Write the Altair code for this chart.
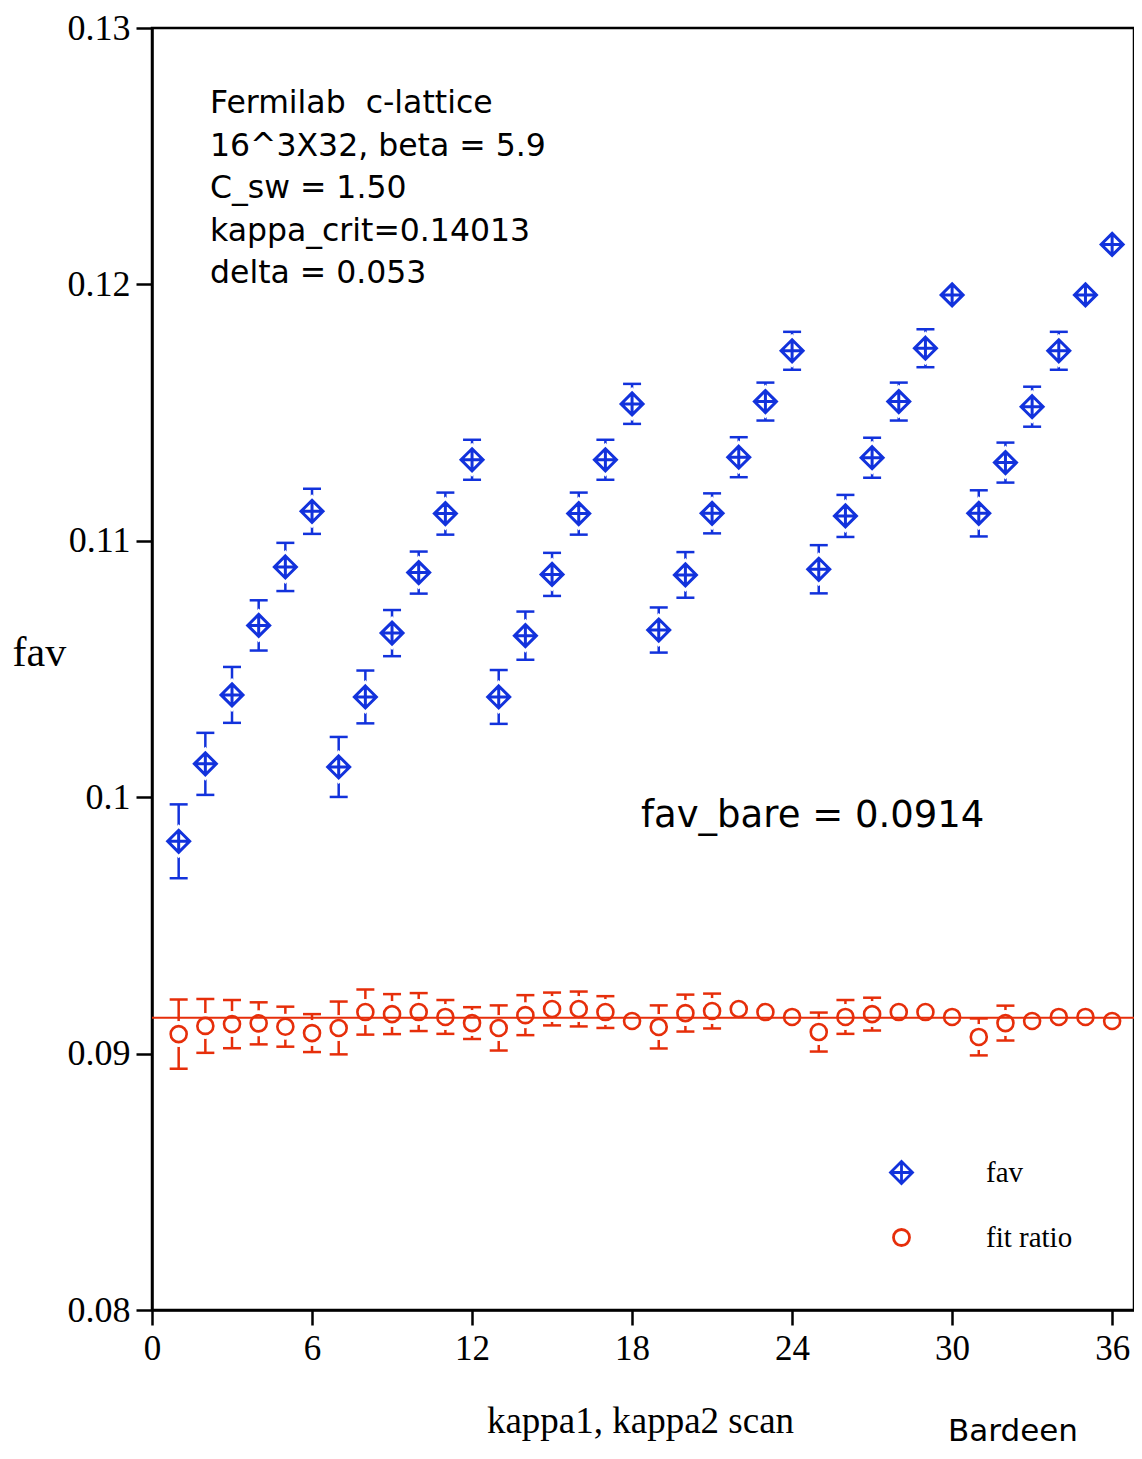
import altair as alt
import pandas as pd

# ---- data ----
x_idx = list(range(1, 37))

fav_val = [0.09828, 0.10130, 0.10399, 0.10670, 0.10898, 0.11115,
           0.10118, 0.10391, 0.10640, 0.10876, 0.11106, 0.11316,
           0.10391, 0.10630, 0.10869, 0.11106, 0.11316, 0.11534,
           0.10652, 0.10867, 0.11107, 0.11326, 0.11543, 0.11741,
           0.10889, 0.11097, 0.11324, 0.11543, 0.11751, 0.11959,
           0.11107, 0.11305, 0.11523, 0.11741, 0.11959, 0.12156]
fav_err = [0.00144, 0.00121, 0.00109, 0.00098, 0.00094, 0.00088,
           0.00117, 0.00103, 0.00090, 0.00082, 0.00082, 0.00078,
           0.00105, 0.00094, 0.00084, 0.00082, 0.00078, 0.00078,
           0.00088, 0.00089, 0.00078, 0.00078, 0.00074, 0.00074,
           0.00094, 0.00082, 0.00078, 0.00074, 0.00074, 0.00020,
           0.00090, 0.00078, 0.00078, 0.00074, 0.00020, 0.00020]

fit_val = [0.09076, 0.09108, 0.09115, 0.09118, 0.09105, 0.09080,
           0.09100, 0.09162, 0.09154, 0.09162, 0.09143, 0.09119,
           0.09100, 0.09150, 0.09174, 0.09174, 0.09162, 0.09127,
           0.09104, 0.09158, 0.09166, 0.09174, 0.09162, 0.09143,
           0.09084, 0.09143, 0.09154, 0.09162, 0.09162, 0.09143,
           0.09065, 0.09119, 0.09127, 0.09143, 0.09143, 0.09127]
fit_err = [0.00135, 0.00105, 0.00094, 0.00082, 0.00078, 0.00074,
           0.00103, 0.00088, 0.00078, 0.00074, 0.00066, 0.00062,
           0.00088, 0.00078, 0.00064, 0.00068, 0.00062, 0.00025,
           0.00084, 0.00072, 0.00068, 0.00025, 0.00025, 0.00025,
           0.00076, 0.00066, 0.00064, 0.00025, 0.00025, 0.00025,
           0.00072, 0.00068, 0.00025, 0.00025, 0.00025, 0.00025]

fav_bare = 0.0914
x_ticks = [0, 6, 12, 18, 24, 30, 36]
y_ticks = [0.08, 0.09, 0.10, 0.11, 0.12, 0.13]
series_names = ["fav", "fit ratio"]

info_lines = ["Fermilab\u00a0 c-lattice", "16^3X32, beta = 5.9", "C_sw = 1.50",
              "kappa_crit=0.14013", "delta = 0.053"]

# ---- styles ----
BLUE = "#1232dc"
RED = "#e62e0a"
DIAMOND_CROSS = "M0,-1L1,0L0,1L-1,0Z M0,-1L0,1 M-1,0L1,0"
SERIF = "Liberation Serif"
SANS = "DejaVu Sans"

df_fav = pd.DataFrame({"x": x_idx, "v": fav_val, "err": fav_err, "series": "fav"})
df_fit = pd.DataFrame({"x": x_idx, "v": fit_val, "err": fit_err, "series": "fit ratio"})
for d in (df_fav, df_fit):
    d["lo"] = d["v"] - d["err"]
    d["hi"] = d["v"] + d["err"]

xs = alt.Scale(domain=[0, 36.82], nice=False, zero=False)
ys = alt.Scale(domain=[0.08, 0.13], nice=False, zero=False)

X = alt.X("x:Q", scale=xs, axis=alt.Axis(
    values=x_ticks, format="d", title="kappa1, kappa2 scan",
    titleFont=SERIF, titleFontSize=37, titleFontWeight="normal",
    titleY=111, titleBaseline="middle", titleX=488, titleAlign="center",
    labelFont=SERIF, labelFontSize=35, labelPadding=6, labelColor="black",
    labelFlush=False, labelOverlap=False,
    tickSize=15, tickWidth=2.5, tickColor="black", domainColor="black",
    domainWidth=2.5, grid=False))
Y = alt.Y("v:Q", scale=ys, axis=alt.Axis(
    values=y_ticks, format=".2~f", title="fav",
    titleFont=SERIF, titleFontSize=42, titleFontWeight="normal", titleAngle=0,
    titleX=-140, titleY=637, titleAlign="left", titleBaseline="alphabetic",
    labelFont=SERIF, labelFontSize=36, labelPadding=6, labelColor="black",
    labelFlush=False, labelOverlap=False,
    tickSize=16, tickWidth=2.5, tickColor="black", domainColor="black",
    domainWidth=2.5, grid=False))

legend = alt.Legend(title=None, orient="none", legendX=735, legendY=1130,
                    labelFont=SERIF, labelFontSize=29, labelColor="black",
                    labelOffset=70, rowPadding=33, symbolStrokeWidth=2.8,
                    padding=0)
color = alt.Color("series:N", scale=alt.Scale(domain=series_names, range=[BLUE, RED]), legend=legend)
shape = alt.Shape("series:N", scale=alt.Scale(domain=series_names, range=[DIAMOND_CROSS, "circle"]), legend=legend)
size = alt.Size("series:N", scale=alt.Scale(domain=series_names, range=[484, 256]), legend=legend)


def err_layers(df, col):
    rule = alt.Chart(df).mark_rule(color=col, strokeWidth=2.5).encode(
        x=alt.X("x:Q", scale=xs), y=alt.Y("lo:Q", scale=ys), y2="hi:Q")
    cap_lo = alt.Chart(df).mark_tick(orient="horizontal", color=col, size=18,
                                     thickness=2.5, opacity=1).encode(
        x=alt.X("x:Q", scale=xs), y=alt.Y("lo:Q", scale=ys))
    cap_hi = alt.Chart(df).mark_tick(orient="horizontal", color=col, size=18,
                                     thickness=2.5, opacity=1).encode(
        x=alt.X("x:Q", scale=xs), y=alt.Y("hi:Q", scale=ys))
    return [rule, cap_lo, cap_hi]


mask_fav = alt.Chart(df_fav).mark_point(shape="diamond", filled=True, color="white",
                                        size=1156, opacity=1, strokeWidth=0).encode(
    x=alt.X("x:Q", scale=xs), y=alt.Y("v:Q", scale=ys))
mask_fit = alt.Chart(df_fit).mark_point(shape="circle", filled=True, color="white",
                                        size=676, opacity=1, strokeWidth=0).encode(
    x=alt.X("x:Q", scale=xs), y=alt.Y("v:Q", scale=ys))

fit_line = alt.Chart(pd.DataFrame({"v": [fav_bare]})).mark_rule(
    color=RED, strokeWidth=2).encode(y=alt.Y("v:Q", scale=ys))

pts_fav = alt.Chart(df_fav).mark_point(filled=False, strokeWidth=3, opacity=1).encode(
    x=X, y=Y, color=color, shape=shape, size=size)
pts_fit = alt.Chart(df_fit).mark_point(filled=False, strokeWidth=2.6, opacity=1).encode(
    x=alt.X("x:Q", scale=xs), y=alt.Y("v:Q", scale=ys), color=color, shape=shape, size=size)

info = alt.Chart(pd.DataFrame({"t": ["\n".join(info_lines)]})).mark_text(
    align="left", baseline="alphabetic", font=SANS, fontSize=31.5, lineBreak="\n",
    lineHeight=42.5, color="black").encode(
    x=alt.value(58), y=alt.value(85), text="t:N")

bare = alt.Chart(pd.DataFrame({"t": [f"fav_bare = {fav_bare}"]})).mark_text(
    align="left", baseline="alphabetic", font=SANS, fontSize=37, color="black").encode(
    x=alt.value(489), y=alt.value(799), text="t:N")

sig = alt.Chart(pd.DataFrame({"t": ["Bardeen"]})).mark_text(
    align="left", baseline="alphabetic", font=SANS, fontSize=31, color="black").encode(
    x=alt.value(796), y=alt.value(1413), text="t:N")

layers = (err_layers(df_fav, BLUE) + err_layers(df_fit, RED)
          + [mask_fav, mask_fit, fit_line, pts_fav, pts_fit, info, bare, sig])

chart = alt.layer(*layers).properties(
    width=982, height=1282,
    autosize=alt.AutoSizeParams(type="none"),
    padding={"left": 144, "top": 20, "right": 0, "bottom": 140},
    background="white",
).configure_view(stroke="black", strokeWidth=2.5)

chart.save("out.html", embed_options={"renderer": "svg", "actions": False})
